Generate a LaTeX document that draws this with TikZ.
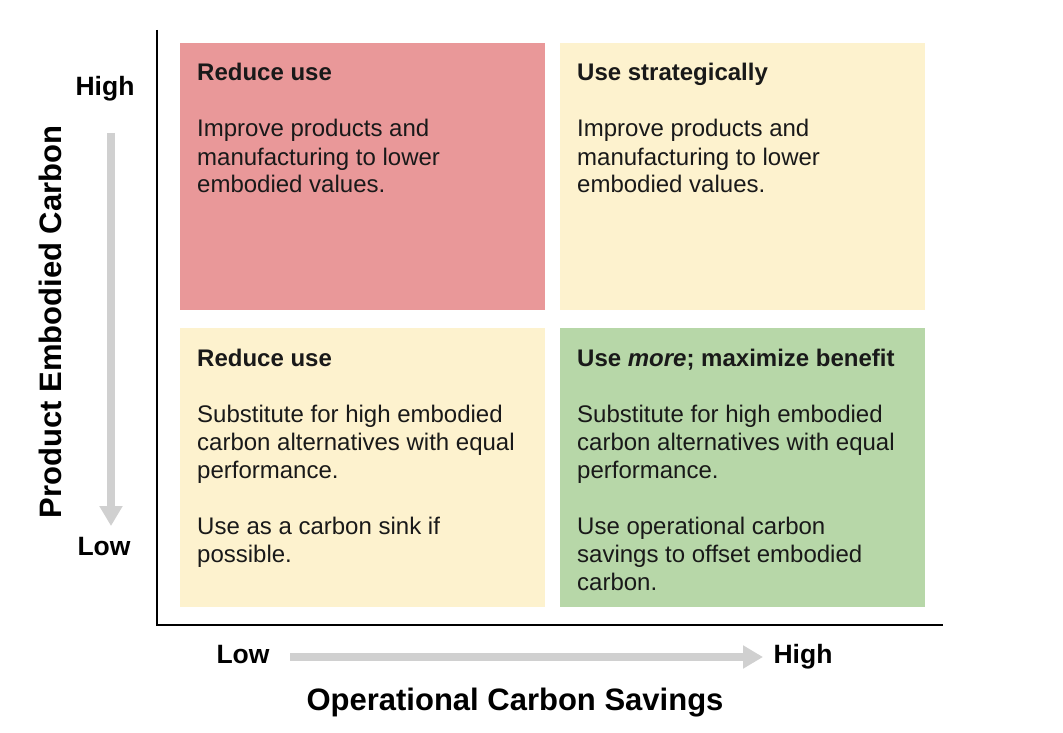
\documentclass[tikz,border=0pt]{standalone}
\usepackage{fontspec}
\setmainfont{Liberation Sans}
\usetikzlibrary{arrows.meta}
\definecolor{qred}{RGB}{233,152,153}
\definecolor{qyellow}{RGB}{253,242,206}
\definecolor{qgreen}{RGB}{183,215,168}
\definecolor{qgray}{RGB}{208,208,208}
\definecolor{qtext}{RGB}{25,25,25}
\begin{document}
\begin{tikzpicture}[x=1pt,y=-1pt,
  quad/.style={draw=none,minimum width=365pt,anchor=north west,inner sep=0pt},
  qtxt/.style={anchor=base west,align=left,inner sep=0pt,text=qtext,font=\fontsize{24}{28}\selectfont},
  axlab/.style={font=\bfseries\fontsize{26.5}{30}\selectfont,text=black,inner sep=0pt},
  axtitle/.style={font=\bfseries\fontsize{31}{36}\selectfont,text=black,inner sep=0pt},
  garrow/.style={draw=qgray,line width=8pt,-{Triangle[width=22pt,length=20pt]}}
]
\useasboundingbox (0,0) rectangle (1063,733);
\fill[white] (0,0) rectangle (1063,733);
% quadrants
\node[quad,fill=qred,minimum height=267pt] (q1) at (180,43) {};
\node[quad,fill=qyellow,minimum height=267pt] (q2) at (560,43) {};
\node[quad,fill=qyellow,minimum height=279pt] (q3) at (180,328) {};
\node[quad,fill=qgreen,minimum height=279pt] (q4) at (560,328) {};
% texts (anchor = baseline of the last line)
\node[qtxt] (t1) at (197,193) {\textbf{Reduce use}\\[28pt]Improve products and\\manufacturing to lower\\embodied values.};
\node[qtxt] (t2) at (577,193) {\textbf{Use strategically}\\[28pt]Improve products and\\manufacturing to lower\\embodied values.};
\node[qtxt] (t3) at (197,562) {\textbf{Reduce use}\\[28pt]Substitute for high embodied\\carbon alternatives with equal\\performance.\\[28pt]Use as a carbon sink if\\possible.};
\node[qtxt] (t4) at (577,590) {\textbf{Use \textit{more}; maximize benefit}\\[28pt]Substitute for high embodied\\carbon alternatives with equal\\performance.\\[28pt]Use operational carbon\\savings to offset embodied\\carbon.};
% axes
\coordinate (o) at (157,625);
\coordinate (ytop) at (157,30);
\coordinate (xend) at (943,625);
\draw[line width=1.8pt,black] (ytop) -- (o) -- (xend);
% vertical axis labels
\node[axlab] (yh) at (105,89) {High};
\node[axlab] (yl) at (104,547) {Low};
\coordinate (va) at (111,133);
\coordinate (vb) at (111,526);
\draw[garrow] (va) -- (vb);
\node[axtitle,rotate=90] (ytitle) at (50,322) {Product Embodied Carbon};
% horizontal axis labels
\node[axlab] (xl) at (243,655) {Low};
\node[axlab] (xh) at (803,657) {High};
\coordinate (ha) at (290,657);
\coordinate (hb) at (763,657);
\draw[garrow] (ha) -- (hb);
\node[axtitle] (xtitle) at (515,703) {Operational Carbon Savings};
\end{tikzpicture}
\end{document}
